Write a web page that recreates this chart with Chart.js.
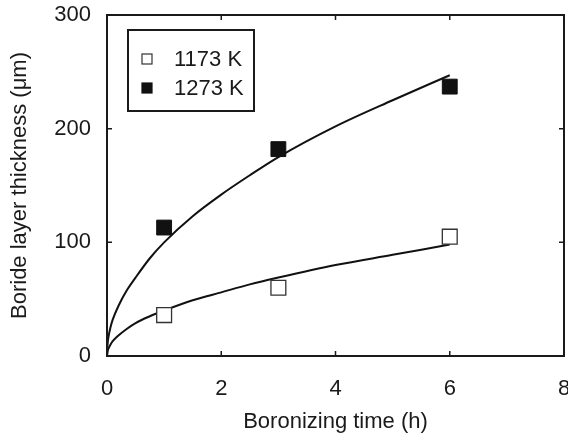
<!DOCTYPE html>
<html>
<head>
<meta charset="utf-8">
<script src="https://cdn.jsdelivr.net/npm/chart.js@4.4.1/dist/chart.umd.min.js"></script>
<style>
  html, body { margin: 0; padding: 0; background: #fff; }
  #wrap { width: 568px; height: 435px; }
</style>
</head>
<body>
<div id="wrap"><canvas id="boride" width="568" height="435"></canvas></div>
<script>
// measured points
const times = [1, 3, 6];
const thick1173 = [36, 60, 105];
const thick1273 = [113, 182, 237];

// fitted curves
const fitTimes = [0, 0.01, 0.03, 0.06, 0.1, 0.2, 0.35, 0.5, 0.75, 1, 1.5, 2, 2.5, 3, 4, 5, 6];
const fit1173 = [0, 4, 7, 10, 13, 18, 24, 29, 35, 40, 49, 56, 63, 69, 80, 89, 98];
const fit1273 = [0, 10, 18, 25, 32, 44, 58, 69, 86, 100, 123, 142, 159, 175, 202, 225, 247];

const xTicks = [0, 2, 4, 6, 8];
const yTicks = [0, 100, 200, 300];

const FONT = "'Liberation Sans', Arial, sans-serif";

function toXY(xs, ys) {
  return xs.map((x, i) => ({ x: x, y: ys[i] }));
}

// frame + inward ticks on all four sides, plus legend box
const framePlugin = {
  id: "frame",
  afterDatasetsDraw(chart) {
    const ctx = chart.ctx;
    const a = chart.chartArea;
    const xs = chart.scales.x;
    const ys = chart.scales.y;
    const tl = 5;
    ctx.save();
    ctx.strokeStyle = "#1a1a1a";
    ctx.lineWidth = 2;
    ctx.strokeRect(a.left, a.top, a.right - a.left, a.bottom - a.top);
    ctx.lineWidth = 1.5;
    ctx.beginPath();
    xTicks.forEach((t) => {
      const px = xs.getPixelForValue(t);
      ctx.moveTo(px, a.bottom);
      ctx.lineTo(px, a.bottom - tl);
      ctx.moveTo(px, a.top);
      ctx.lineTo(px, a.top + tl);
    });
    yTicks.forEach((t) => {
      const py = ys.getPixelForValue(t);
      ctx.moveTo(a.left, py);
      ctx.lineTo(a.left + tl, py);
      ctx.moveTo(a.right, py);
      ctx.lineTo(a.right - tl, py);
    });
    ctx.stroke();

    // legend
    const bx = 128, by = 30, bw = 126, bh = 81;
    ctx.fillStyle = "#fff";
    ctx.fillRect(bx, by, bw, bh);
    ctx.lineWidth = 2;
    ctx.strokeRect(bx, by, bw, bh);
    const items = [chart.data.datasets[0], chart.data.datasets[1]];
    items.forEach((ds, i) => {
      const cy = by + 29 + i * 29;
      const mx = 147, s = 10;
      ctx.fillStyle = ds.pointBackgroundColor;
      ctx.fillRect(mx - s / 2, cy - s / 2, s, s);
      ctx.strokeStyle = ds.pointBorderColor;
      ctx.lineWidth = 1.2;
      ctx.strokeRect(mx - s / 2, cy - s / 2, s, s);
      ctx.fillStyle = "#1a1a1a";
      ctx.font = "22px " + FONT;
      ctx.textBaseline = "middle";
      ctx.textAlign = "left";
      ctx.fillText(ds.label, 174, cy + 1);
    });
    ctx.restore();
  },
};

const ctx = document.getElementById("boride").getContext("2d");
new Chart(ctx, {
  type: "scatter",
  data: {
    datasets: [
      {
        label: "1173 K",
        data: toXY(times, thick1173),
        pointStyle: "rect",
        pointRadius: 10.5,
        pointBackgroundColor: "#ffffff",
        pointBorderColor: "#333333",
        pointBorderWidth: 1.3,
        showLine: false,
        order: 0,
      },
      {
        label: "1273 K",
        data: toXY(times, thick1273),
        pointStyle: "rect",
        pointRadius: 10.5,
        pointBackgroundColor: "#111111",
        pointBorderColor: "#111111",
        pointBorderWidth: 1,
        showLine: false,
        order: 0,
      },
      {
        label: "fit 1173",
        data: toXY(fitTimes, fit1173),
        showLine: true,
        borderColor: "#111111",
        borderWidth: 2,
        pointRadius: 0,
        cubicInterpolationMode: "monotone",
        order: 1,
      },
      {
        label: "fit 1273",
        data: toXY(fitTimes, fit1273),
        showLine: true,
        borderColor: "#111111",
        borderWidth: 2,
        pointRadius: 0,
        cubicInterpolationMode: "monotone",
        order: 1,
      },
    ],
  },
  options: {
    responsive: false,
    devicePixelRatio: 1,
    animation: false,
    layout: { autoPadding: false, padding: { top: 15, right: 4, left: 0, bottom: 0 } },
    plugins: {
      legend: { display: false },
      tooltip: { enabled: false },
    },
    scales: {
      x: {
        type: "linear",
        min: 0,
        max: 8,
        afterBuildTicks: (s) => { s.ticks = xTicks.map((v) => ({ value: v })); },
        afterFit: (s) => {
          s.height = 435 - 356;
          s.paddingLeft = 0;
          s.paddingRight = 0;
        },
        grid: { display: false, drawTicks: false },
        border: { display: false },
        ticks: { color: "#1a1a1a", font: { family: FONT, size: 22 }, padding: 20 },
        title: {
          display: true,
          text: "Boronizing time (h)",
          color: "#1a1a1a",
          font: { family: FONT, size: 22 },
          padding: { top: 2, bottom: 0 },
        },
      },
      y: {
        type: "linear",
        min: 0,
        max: 300,
        afterBuildTicks: (s) => { s.ticks = yTicks.map((v) => ({ value: v })); },
        afterFit: (s) => {
          s.width = 107;
          s.paddingTop = 0;
          s.paddingBottom = 0;
        },
        grid: { display: false, drawTicks: false },
        border: { display: false },
        ticks: { color: "#1a1a1a", font: { family: FONT, size: 22 }, padding: 16 },
        title: {
          display: true,
          text: "Boride layer thickness (μm)",
          color: "#1a1a1a",
          font: { family: FONT, size: 22 },
          padding: { top: 7, bottom: 0 },
        },
      },
    },
  },
  plugins: [framePlugin],
});
</script>
</body>
</html>
